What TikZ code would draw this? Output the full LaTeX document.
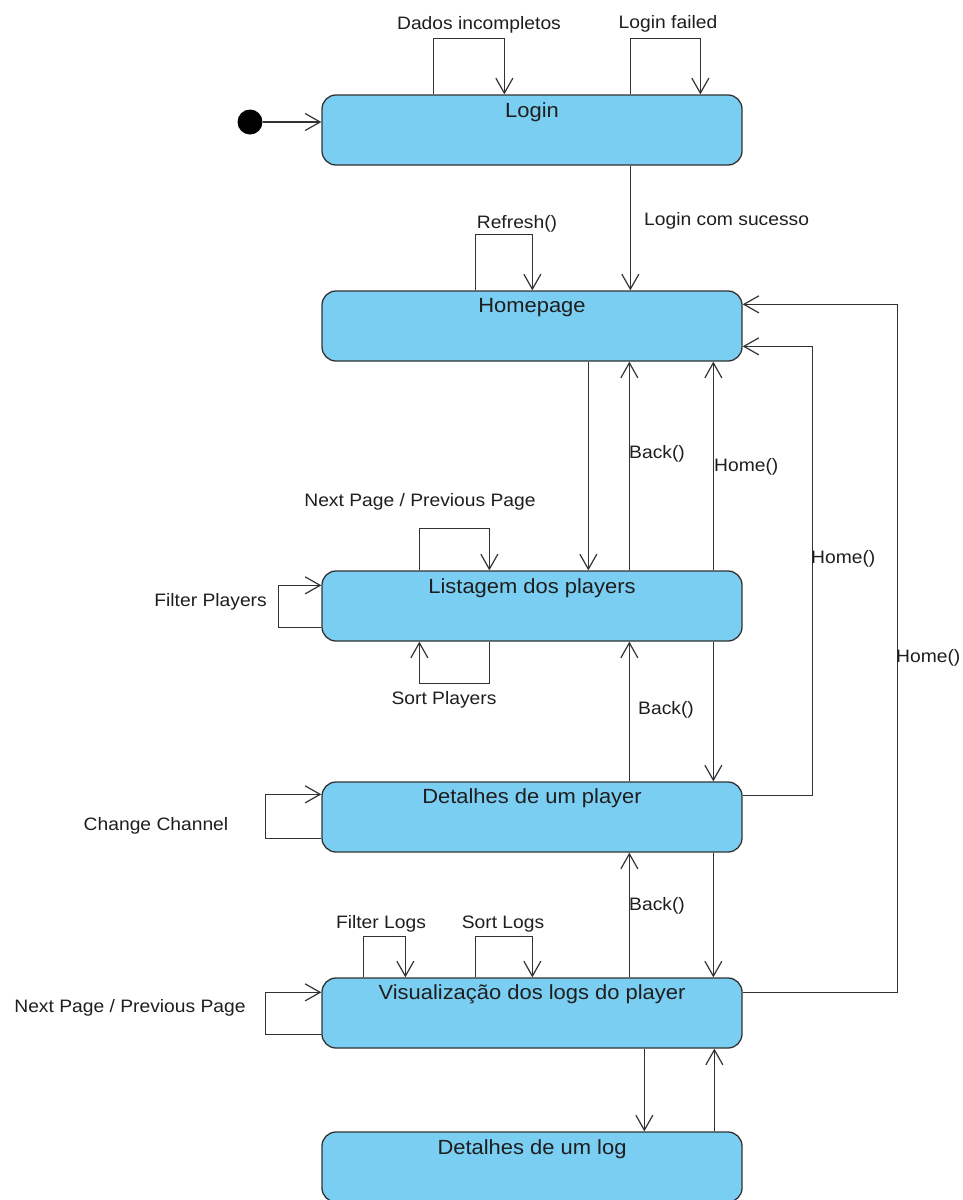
\documentclass[tikz,border=0pt]{standalone}
\usepackage{fontspec}
\setmainfont{Liberation Sans}[FakeStretch=1.07]
\usetikzlibrary{arrows.meta}
\definecolor{statefill}{RGB}{122,206,242}
\definecolor{edgecol}{RGB}{50,50,50}
\definecolor{txt}{RGB}{30,30,30}
\begin{document}
\begin{tikzpicture}[x=1pt,y=-1pt,
  state/.style={draw=edgecol, line width=1.3pt, fill=statefill, rounded corners=14pt,
                minimum width=420pt, minimum height=70pt, inner sep=0pt},
  title/.style={font=\fontsize{20.5}{24}\selectfont, text=txt, inner sep=0pt, anchor=base},
  lbl/.style={font=\fontsize{18}{22}\selectfont, text=txt, inner sep=0pt, anchor=base},
  tr/.style={draw=edgecol, line width=1.2pt, -{Straight Barb[length=15pt,width=17pt]}},
  ]
\useasboundingbox (0,0) rectangle (963,1200);

% ---- states ----
\node[state] (login) at (532,130) {};
\node[state] (home)  at (532,326) {};
\node[state] (list)  at (532,606) {};
\node[state] (player) at (532,817) {};
\node[state] (vis)   at (532,1013) {};
\node[state] (log)   at (532,1167) {};

\node[title] (loginT)  at ([yshift=-23pt]login.north)  {Login};
\node[title] (homeT)   at ([yshift=-22pt]home.north)   {Homepage};
\node[title] (listT)   at ([yshift=-23pt]list.north)   {Listagem dos players};
\node[title] (playerT) at ([yshift=-22pt]player.north) {Detalhes de um player};
\node[title] (visT)    at ([yshift=-22pt]vis.north)    {Visualização dos logs do player};
\node[title] (logT)    at ([yshift=-23pt]log.north)    {Detalhes de um log};

% ---- initial state ----
\node[circle, fill=black, minimum size=25pt, inner sep=0pt] (init) at (250,122) {};
\draw[tr] (init) -- (init -| login.west);

% ---- Login ----
\draw[tr] ([xshift=112pt]login.north west) -- ++(0,-56) -| ([xshift=183pt]login.north west);
\node[lbl] (dadosL) at (479,29) {Dados incompletos};
\draw[tr] ([xshift=309pt]login.north west) -- ++(0,-56) -| ([xshift=379pt]login.north west);
\node[lbl] (failL) at (668,28) {Login failed};

\draw[tr] ([xshift=309pt]login.south west) -- ([xshift=309pt]home.north west);
\node[lbl, anchor=base west] (sucL) at (644,225) {Login com sucesso};

% ---- Homepage ----
\draw[tr] ([xshift=154pt]home.north west) -- ++(0,-56) -| ([xshift=211pt]home.north west);
\node[lbl] (refL) at (517,228) {Refresh()};

\draw[tr] ([xshift=267pt]home.south west) -- ([xshift=267pt]list.north west);
\draw[tr] ([xshift=308pt]list.north west) -- ([xshift=308pt]home.south west);
\node[lbl, anchor=base west] (back1L) at (629,458) {Back()};
\draw[tr] ([xshift=392pt]list.north west) -- ([xshift=392pt]home.south west);
\node[lbl, anchor=base west] (home1L) at (714,471) {Home()};

\draw[tr] ([yshift=-14pt]player.north east) -- ++(70,0) |- ([yshift=-56pt]home.north east);
\node[lbl, anchor=base west] (home2L) at (811,563) {Home()};
\draw[tr] ([yshift=-15pt]vis.north east) -- ++(155,0) |- ([yshift=-14pt]home.north east);
\node[lbl, anchor=base west] (home3L) at (896,662) {Home()};

% ---- Listagem dos players ----
\draw[tr] ([xshift=98pt]list.north west) -- ++(0,-42) -| ([xshift=168pt]list.north west);
\node[lbl] (npL) at (420,506) {Next Page / Previous Page};
\draw[tr] ([yshift=14pt]list.south west) -- ++(-43,0) |- ([yshift=-15pt]list.north west);
\node[lbl, anchor=base east] (fpL) at (267,606) {Filter Players};
\draw[tr] ([xshift=168pt]list.south west) -- ++(0,42) -| ([xshift=98pt]list.south west);
\node[lbl] (spL) at (444,704) {Sort Players};

\draw[tr] ([xshift=308pt]player.north west) -- ([xshift=308pt]list.south west);
\node[lbl, anchor=base west] (back2L) at (638,714) {Back()};
\draw[tr] ([xshift=392pt]list.south west) -- ([xshift=392pt]player.north west);

% ---- Detalhes de um player ----
\draw[tr] ([yshift=14pt]player.south west) -- ++(-56,0) |- ([yshift=-13pt]player.north west);
\node[lbl] (ccL) at (156,830) {Change Channel};

\draw[tr] ([xshift=308pt]vis.north west) -- ([xshift=308pt]player.south west);
\node[lbl, anchor=base west] (back3L) at (629,910) {Back()};
\draw[tr] ([xshift=392pt]player.south west) -- ([xshift=392pt]vis.north west);

% ---- Visualização dos logs do player ----
\draw[tr] ([xshift=42pt]vis.north west) -- ++(0,-41) -| ([xshift=84pt]vis.north west);
\node[lbl] (flL) at (381,928) {Filter Logs};
\draw[tr] ([xshift=154pt]vis.north west) -- ++(0,-41) -| ([xshift=211pt]vis.north west);
\node[lbl] (slL) at (503,928) {Sort Logs};
\draw[tr] ([yshift=14pt]vis.south west) -- ++(-56,0) |- ([yshift=-15pt]vis.north west);
\node[lbl] (np2L) at (130,1012) {Next Page / Previous Page};

\draw[tr] ([xshift=323pt]vis.south west) -- ([xshift=323pt]log.north west);
\draw[tr] ([xshift=393pt]log.north west) -- ([xshift=393pt]vis.south west);
\end{tikzpicture}
\end{document}
